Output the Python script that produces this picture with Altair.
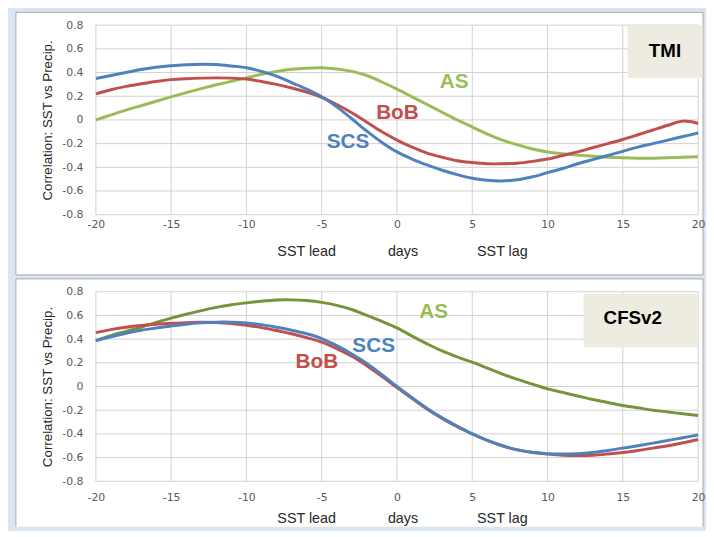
import altair as alt
import pandas as pd

days = list(range(-20, 21))
x_ticks = [-20, -15, -10, -5, 0, 5, 10, 15, 20]
y_ticks = [-0.8, -0.6, -0.4, -0.2, 0, 0.2, 0.4, 0.6, 0.8]

# TMI panel
tmi_scs = [0.35, 0.375, 0.40, 0.425, 0.445, 0.458, 0.466, 0.47, 0.467, 0.455,
           0.44, 0.41, 0.37, 0.315, 0.26, 0.195, 0.11, 0.01, -0.095, -0.19,
           -0.27, -0.33, -0.38, -0.425, -0.462, -0.492, -0.51, -0.515, -0.505, -0.48,
           -0.445, -0.41, -0.37, -0.335, -0.30, -0.265, -0.23, -0.20, -0.17, -0.14, -0.11]
tmi_bob = [0.22, 0.255, 0.283, 0.305, 0.325, 0.34, 0.348, 0.353, 0.355, 0.353,
           0.345, 0.325, 0.30, 0.27, 0.235, 0.19, 0.13, 0.06, -0.02, -0.10,
           -0.17, -0.23, -0.28, -0.315, -0.345, -0.36, -0.37, -0.37, -0.365, -0.35,
           -0.33, -0.30, -0.27, -0.235, -0.20, -0.165, -0.125, -0.085, -0.045, -0.01, -0.03]
tmi_as = [0.0, 0.042, 0.083, 0.12, 0.158, 0.195, 0.23, 0.264, 0.297, 0.325,
          0.355, 0.385, 0.41, 0.427, 0.437, 0.44, 0.43, 0.41, 0.375, 0.32,
          0.26, 0.195, 0.13, 0.065, 0.0, -0.06, -0.12, -0.17, -0.21, -0.245,
          -0.27, -0.285, -0.297, -0.307, -0.315, -0.32, -0.323, -0.323, -0.32, -0.315, -0.31]

# CFSv2 panel
cfs_scs = [0.387, 0.42, 0.45, 0.475, 0.493, 0.51, 0.526, 0.537, 0.543, 0.543,
           0.537, 0.522, 0.50, 0.475, 0.445, 0.405, 0.345, 0.275, 0.195, 0.10,
           0.0, -0.095, -0.185, -0.265, -0.335, -0.40, -0.455, -0.50, -0.535, -0.555,
           -0.567, -0.57, -0.567, -0.557, -0.54, -0.52, -0.50, -0.478, -0.455, -0.432, -0.41]
cfs_bob = [0.455, 0.48, 0.50, 0.515, 0.526, 0.533, 0.539, 0.542, 0.54, 0.532,
           0.517, 0.497, 0.472, 0.445, 0.412, 0.375, 0.32, 0.255, 0.175, 0.085,
           -0.01, -0.10, -0.19, -0.27, -0.34, -0.40, -0.455, -0.50, -0.535, -0.557,
           -0.57, -0.58, -0.583, -0.58, -0.57, -0.557, -0.54, -0.52, -0.50, -0.475, -0.447]
cfs_as = [0.39, 0.43, 0.465, 0.50, 0.54, 0.577, 0.61, 0.64, 0.668, 0.69,
          0.706, 0.72, 0.73, 0.731, 0.725, 0.71, 0.685, 0.65, 0.60, 0.55,
          0.495, 0.425, 0.36, 0.30, 0.25, 0.205, 0.155, 0.105, 0.06, 0.02,
          -0.02, -0.05, -0.08, -0.11, -0.135, -0.16, -0.18, -0.20, -0.215, -0.23, -0.245]

series_order = ["AS", "BoB", "SCS"]
tmi_colors = ["#9bbb59", "#c0504d", "#4f81bd"]
cfs_colors = ["#77933c", "#c0504d", "#4f81bd"]

tmi_label_x = [3.8, 0.03, -3.25]
tmi_label_y = [0.317, 0.058, -0.19]
cfs_label_x = [2.43, -5.32, -1.55]
cfs_label_y = [0.63, 0.21, 0.343]

tmi_tag = {"text": "TMI", "x0": 15.32, "x1": 20.3, "y0": 0.354, "y1": 0.8, "tx": 17.8, "ty": 0.583}
cfs_tag = {"text": "CFSv2", "x0": 12.39, "x1": 20.0, "y0": 0.33, "y1": 0.78, "tx": 15.66, "ty": 0.575}

x_title_words = ["SST lead", "days", "SST lag"]
x_title_pos = [-6.0, 0.4, 7.0]
y_title = "Correlation: SST vs Precip."

W, H = 610, 192
BOX_L, BOX_R, BOX_T = -81, 615, -13


def panel(vals, colors, lab_x, lab_y, tag, box_bottom, bottom_edge, xpad):
    xs = alt.Scale(domain=[-20, 20], nice=False, zero=False)
    ys = alt.Scale(domain=[-0.8, 0.8], nice=False, zero=False)
    xax = alt.Axis(values=x_ticks, grid=False, domain=False, ticks=False, labelPadding=xpad,
                   labelFont="DejaVu Sans", labelFontSize=11, labelColor="#595959",
                   labelExpr="'' + datum.value", labelFlush=False, title=None, zindex=1)
    yax = alt.Axis(values=y_ticks, grid=False, domain=False, ticks=False, labelPadding=13,
                   labelFont="DejaVu Sans", labelFontSize=11, labelColor="#595959",
                   labelExpr="'' + datum.value", title=y_title, titleFont="Liberation Sans",
                   titleFontSize=13.5, titleFontWeight="normal", titleColor="#262626",
                   titlePadding=7, zindex=1)
    one = pd.DataFrame({"k": [0]})
    layers = [
        alt.Chart(one).mark_rect(fill="white", strokeWidth=0).encode(
            x=alt.value(BOX_L), x2=alt.value(BOX_R),
            y=alt.value(BOX_T), y2=alt.value(box_bottom))
    ]
    edges = [(BOX_L, BOX_R, BOX_T, BOX_T), (BOX_L, BOX_L, BOX_T, box_bottom),
             (BOX_R, BOX_R, BOX_T, box_bottom)]
    if bottom_edge:
        edges.append((BOX_L, BOX_R, box_bottom, box_bottom))
    for a, b, c, d in edges:
        if a == b:
            enc = dict(x=alt.value(a), y=alt.value(c), y2=alt.value(d))
        else:
            enc = dict(x=alt.value(a), x2=alt.value(b), y=alt.value(c))
        layers.append(alt.Chart(one).mark_rule(color="#a9a9a9", strokeWidth=1).encode(**enc))

    vg = pd.DataFrame({"x": x_ticks, "y0": [-0.8] * len(x_ticks), "y1": [0.8] * len(x_ticks)})
    hg = pd.DataFrame({"y": y_ticks, "x0": [-20] * len(y_ticks), "x1": [20] * len(y_ticks)})
    layers.append(alt.Chart(vg).mark_rule(color="#d0d0d0", strokeWidth=1).encode(
        x=alt.X("x:Q", scale=xs, axis=xax),
        y=alt.Y("y0:Q", scale=ys, axis=yax), y2="y1:Q"))
    layers.append(alt.Chart(hg).mark_rule(color="#d0d0d0", strokeWidth=1).encode(
        y=alt.Y("y:Q", scale=ys, axis=yax),
        x=alt.X("x0:Q", scale=xs, axis=xax), x2="x1:Q"))

    tb = pd.DataFrame({"x0": [tag["x0"]], "x1": [tag["x1"]], "y0": [tag["y0"]], "y1": [tag["y1"]],
                       "tx": [tag["tx"]], "ty": [tag["ty"]], "t": [tag["text"]]})
    layers.append(alt.Chart(tb).mark_rect(fill="#eeece1").encode(
        x=alt.X("x0:Q", scale=xs, axis=xax), x2="x1:Q",
        y=alt.Y("y0:Q", scale=ys, axis=yax), y2="y1:Q"))
    layers.append(alt.Chart(tb).mark_text(font="Liberation Sans", fontWeight="bold", fontSize=19,
                                          color="#000000", baseline="middle").encode(
        x=alt.X("tx:Q", scale=xs, axis=xax), y=alt.Y("ty:Q", scale=ys, axis=yax), text="t:N"))

    for name, v, c in zip(series_order, vals, colors):
        df = pd.DataFrame({"day": days, "r": v})
        layers.append(alt.Chart(df).mark_line(color=c, strokeWidth=3, interpolate="catmull-rom").encode(
            x=alt.X("day:Q", scale=xs, axis=xax), y=alt.Y("r:Q", scale=ys, axis=yax)))

    lab = pd.DataFrame({"name": series_order, "x": lab_x, "y": lab_y})
    layers.append(alt.Chart(lab).mark_text(font="Liberation Sans", fontWeight="bold", fontSize=21,
                                           baseline="middle").encode(
        x=alt.X("x:Q", scale=xs, axis=xax), y=alt.Y("y:Q", scale=ys, axis=yax), text="name:N",
        color=alt.Color("name:N", scale=alt.Scale(domain=series_order, range=colors), legend=None)))

    tw = pd.DataFrame({"w": x_title_words, "x": x_title_pos})
    layers.append(alt.Chart(tw).mark_text(font="Liberation Sans", fontSize=14.5, color="#262626",
                                          baseline="alphabetic").encode(
        x=alt.X("x:Q", scale=xs, axis=xax), y=alt.value(234), text="w:N"))

    return alt.layer(*layers).properties(width=W, height=H)


top = panel([tmi_as, tmi_bob, tmi_scs], tmi_colors, tmi_label_x, tmi_label_y, tmi_tag, 253, True, 4)
bottom = panel([cfs_as, cfs_bob, cfs_scs], cfs_colors, cfs_label_x, cfs_label_y, cfs_tag, 238, False, 10)

chart = alt.vconcat(top, bottom, spacing=2).properties(
    background="#dbe5f1",
    padding={"left": 7, "top": 0, "right": 0, "bottom": 0},
).configure_view(stroke="transparent")

chart.save("out.html", embed_options={"renderer": "svg", "actions": False})
